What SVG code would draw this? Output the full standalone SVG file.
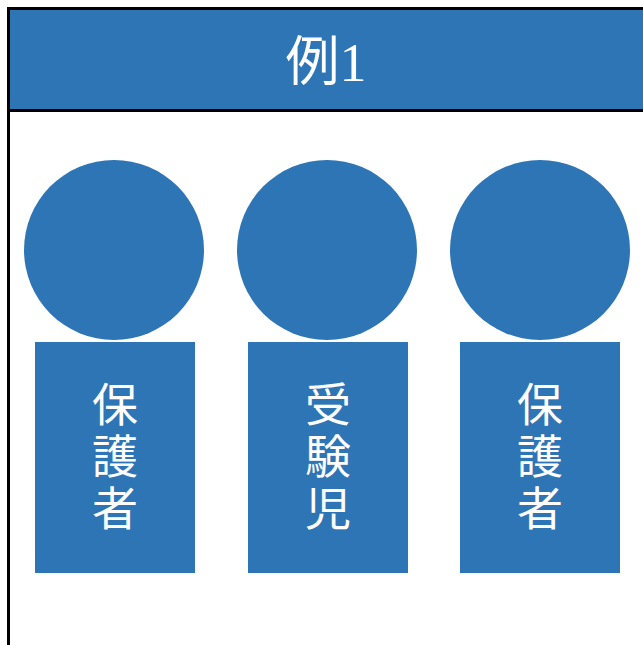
<svg xmlns="http://www.w3.org/2000/svg" width="643" height="645" viewBox="0 0 643 645">
<style>
.b{fill:#2E75B6}
.ln{stroke:#000;stroke-width:3;fill:none}
.t{fill:#fff;font-family:"Noto Sans CJK JP",sans-serif;font-size:46px;text-anchor:middle;writing-mode:vertical-rl;letter-spacing:6px}
.h{fill:#fff;font-family:"Liberation Serif","Noto Sans CJK JP",serif;font-size:54px;text-anchor:middle}
</style>
<rect width="643" height="645" fill="#fff"/>
<g id="header">
<rect class="b" x="8.5" y="8.5" width="640" height="102"/>
<path class="ln" d="M8.5 645V8.5H643M8.5 110.5H643"/>
<text class="h" x="326" y="81">例1</text>
</g>
<g id="node1">
<circle class="b" cx="114" cy="250" r="90"/>
<rect class="b" x="35" y="342" width="160" height="231"/>
<text class="t" x="115" y="459">保護者</text>
</g>
<g id="node2">
<circle class="b" cx="327" cy="250" r="90"/>
<rect class="b" x="248" y="342" width="160" height="231"/>
<text class="t" x="328" y="459">受験児</text>
</g>
<g id="node3">
<circle class="b" cx="540" cy="250" r="90"/>
<rect class="b" x="460" y="342" width="160" height="231"/>
<text class="t" x="540" y="459">保護者</text>
</g>
<g id="connectors"/>
</svg>
